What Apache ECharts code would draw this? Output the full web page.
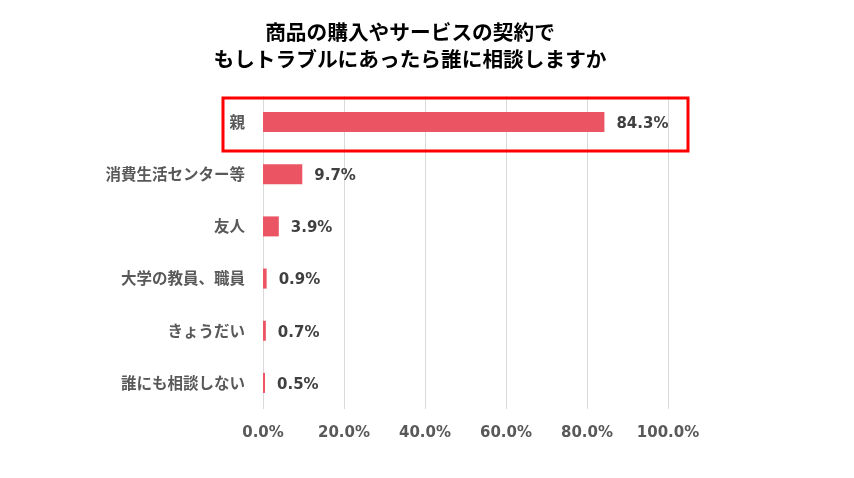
<!DOCTYPE html>
<html>
<head>
<meta charset="utf-8">
<script src="https://cdn.jsdelivr.net/npm/echarts@6/dist/echarts.min.js"></script>
<style>
  html, body { margin: 0; padding: 0; background: #fff; }
  #chart { width: 854px; height: 478px; }
</style>
</head>
<body>
<div id="chart"></div>
<script>
// categories top -> bottom
const categories = ["親", "消費生活センター等", "友人", "大学の教員、職員", "きょうだい", "誰にも相談しない"];
const values = [84.3, 9.7, 3.9, 0.9, 0.7, 0.5];
const titleLines = ["商品の購入やサービスの契約で", "もしトラブルにあったら誰に相談しますか"];

const font = "'DejaVu Sans', 'Noto Sans CJK JP', sans-serif";

const chart = echarts.init(document.getElementById("chart"));
chart.setOption({
  animation: false,
  title: {
    text: titleLines.join("\n"),
    left: 405,
    top: 14,
    textAlign: "center",
    textStyle: {
      fontFamily: "'Noto Sans CJK JP', sans-serif",
      fontSize: 20.7,
      fontWeight: "bold",
      color: "#000",
      lineHeight: 27,
    },
  },
  grid: {
    left: 263,
    right: 186,
    top: 96,
    bottom: 69,
  },
  xAxis: {
    type: "value",
    min: 0,
    max: 100,
    interval: 20,
    axisLine: { show: false },
    axisTick: { show: false },
    splitLine: { lineStyle: { color: "#d9d9d9", width: 1 } },
    axisLabel: {
      margin: 17,
      fontFamily: font,
      fontSize: 15,
      fontWeight: "bold",
      color: "#595959",
      formatter: (v) => v.toFixed(1) + "%",
    },
  },
  yAxis: {
    type: "category",
    data: categories,
    inverse: true,
    axisLine: { show: false },
    axisTick: { show: false },
    axisLabel: {
      margin: 18,
      fontFamily: "'Noto Sans CJK JP', sans-serif",
      fontSize: 15.5,
      fontWeight: "bold",
      color: "#595959",
    },
  },
  series: [
    {
      type: "bar",
      data: values,
      barWidth: 20,
      itemStyle: { color: "#eb5463" },
      label: {
        show: true,
        position: "right",
        distance: 12,
        offset: [0, 2],
        fontFamily: font,
        fontSize: 15,
        fontWeight: "bold",
        color: "#404040",
        formatter: (p) => p.value.toFixed(1) + "%",
      },
    },
  ],
  graphic: [
    {
      type: "rect",
      shape: { x: 223, y: 98, width: 465, height: 53 },
      style: { fill: "none", stroke: "#ff0000", lineWidth: 3 },
      z: 100,
    },
  ],
});
</script>
</body>
</html>
